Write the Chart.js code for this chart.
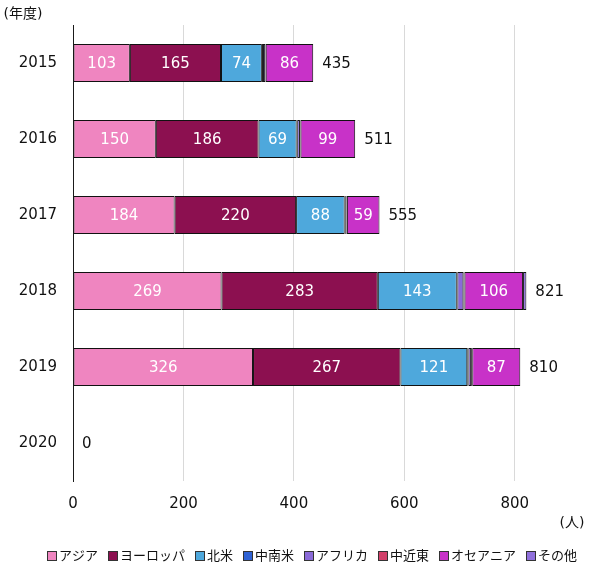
<!DOCTYPE html>
<html lang="ja">
<head>
<meta charset="utf-8">
<title>年度別・地域別 人数</title>
<script src="https://cdn.jsdelivr.net/npm/chart.js@4"></script>
<style>
  html, body { margin: 0; padding: 0; background: #fff; }
</style>
</head>
<body>
<canvas id="chart" width="593" height="567"></canvas>
<script>
// fiscal years (rows) and people per region
const years = ['2015', '2016', '2017', '2018', '2019', '2020'];
const asia = [103, 150, 184, 269, 326, 0];
const europe = [165, 186, 220, 283, 267, 0];
const northAmerica = [74, 69, 88, 143, 121, 0];
const latinAmerica = [2, 1, 1, 1, 2, 0];
const africa = [4, 5, 2, 11, 5, 0];
const middleEast = [1, 1, 1, 2, 2, 0];
const oceania = [86, 99, 59, 106, 87, 0];
const other = [0, 0, 0, 6, 0, 0];

const regions = ['アジア', 'ヨーロッパ', '北米', '中南米', 'アフリカ', '中近東', 'オセアニア', 'その他'];
const series = [asia, europe, northAmerica, latinAmerica, africa, middleEast, oceania, other];
const colours = ['#ef85c0', '#8c1050', '#4ea8dc', '#2f62d4', '#8a6ad8', '#d2406a', '#c832c8', '#9070dc'];
// only these regions get a value written inside the bar
const showValue = [true, true, true, false, false, false, true, false];

const xTicks = [0, 200, 400, 600, 800];

const font = '"DejaVu Sans", "Noto Sans CJK JP", sans-serif';

const datasets = regions.map((name, i) => ({
  label: name,
  data: series[i],
  backgroundColor: colours[i],
  borderColor: '#111',
  borderWidth: 1,
  borderSkipped: false,
  barPercentage: 0.5,
  categoryPercentage: 1,
}));

// segment values, totals, unit captions and legend
const barLabels = {
  id: 'barLabels',
  afterDatasetsDraw(chart) {
    const ctx = chart.ctx;
    const xs = chart.scales.x;
    const ys = chart.scales.y;
    ctx.save();
    ctx.textBaseline = 'middle';

    ctx.font = '15px ' + font;
    ctx.fillStyle = '#fff';
    ctx.textAlign = 'center';
    chart.data.datasets.forEach((ds, di) => {
      if (!showValue[di]) return;
      chart.getDatasetMeta(di).data.forEach((bar, i) => {
        const v = ds.data[i];
        if (!v) return;
        const p = bar.getProps(['x', 'y', 'base'], true);
        ctx.fillText(String(v), (p.x + p.base) / 2, p.y + 1);
      });
    });

    ctx.fillStyle = '#111';
    ctx.textAlign = 'left';
    years.forEach((yr, i) => {
      const total = chart.data.datasets.reduce((s, ds) => s + ds.data[i], 0);
      ctx.fillText(String(total), xs.getPixelForValue(total) + 9, ys.getPixelForValue(i) + 1);
    });

    ctx.font = '14px ' + font;
    ctx.textAlign = 'center';
    ctx.fillText('(年度)', 23, 14);
    ctx.fillText('(人)', 572, 523);

    // legend row
    ctx.font = '13px ' + font;
    const box = 10, gap = 2, spacing = 10;
    const widths = regions.map(r => box + gap + ctx.measureText(r).width);
    const total = widths.reduce((a, b) => a + b, 0) + spacing * (regions.length - 1);
    let x = Math.round(312 - total / 2);
    const ly = 556;
    ctx.textAlign = 'left';
    regions.forEach((r, i) => {
      const bx = Math.round(x);
      ctx.fillStyle = colours[i];
      ctx.fillRect(bx, ly - box / 2, box, box);
      ctx.strokeStyle = '#333';
      ctx.lineWidth = 1;
      ctx.strokeRect(bx + 0.5, ly - box / 2 + 0.5, box - 1, box - 1);
      ctx.fillStyle = '#111';
      ctx.fillText(r, bx + box + gap, ly + 1);
      x += widths[i] + spacing;
    });
    ctx.restore();
  }
};

new Chart(document.getElementById('chart'), {
  type: 'bar',
  data: { labels: years, datasets: datasets },
  plugins: [barLabels],
  options: {
    indexAxis: 'y',
    responsive: false,
    animation: false,
    layout: { padding: { top: 22, right: 23, bottom: 0, left: 0 } },
    plugins: {
      legend: { display: false },
      tooltip: { enabled: false },
    },
    scales: {
      x: {
        stacked: true,
        min: 0,
        max: 900,
        afterBuildTicks: (scale) => {
          scale.ticks = xTicks.concat([900]).map(v => ({ value: v }));
        },
        afterFit: (scale) => { scale.height = 86; },
        ticks: {
          padding: 14,
          color: '#111',
          font: { family: font, size: 15 },
          callback: (v) => (xTicks.includes(v) ? String(v) : ''),
        },
        grid: {
          drawTicks: false,
          color: (c) => (c.tick && xTicks.includes(c.tick.value) && c.tick.value !== 0 ? '#d9d9d9' : 'transparent'),
        },
        border: { display: false },
      },
      y: {
        stacked: true,
        afterFit: (scale) => { scale.width = 73; },
        ticks: {
          padding: 16,
          color: '#111',
          font: { family: font, size: 15 },
        },
        grid: { drawTicks: false, color: 'transparent' },
        border: { display: true, color: '#1a1a1a', width: 1 },
      },
    },
  },
});
</script>
</body>
</html>
